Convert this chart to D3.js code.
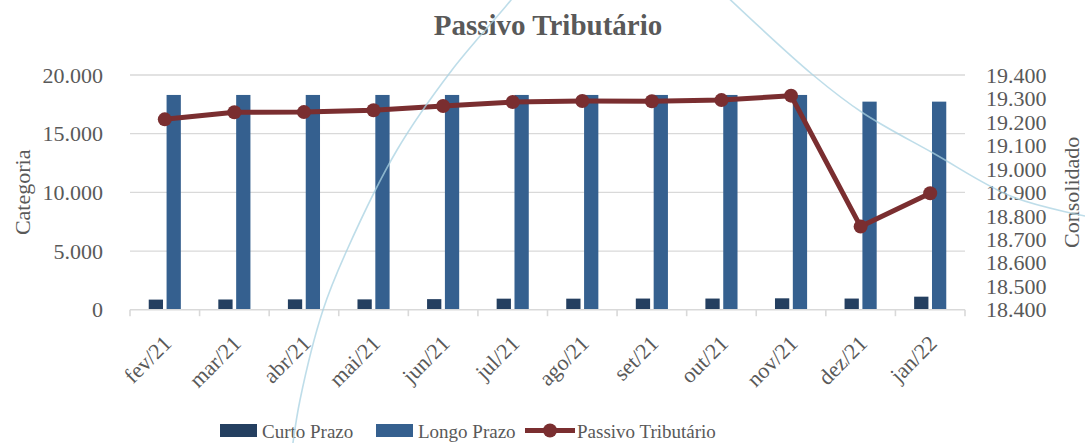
<!DOCTYPE html>
<html><head><meta charset="utf-8">
<script src="https://cdn.jsdelivr.net/npm/d3@7"></script>
<style>
html,body{margin:0;padding:0;background:#fff;}
svg text{font-family:"Liberation Serif","Times New Roman",serif;fill:#595959;}
</style></head>
<body><svg id="chart" width="1085" height="443"></svg>
<script>
const categories = ["fev/21","mar/21","abr/21","mai/21","jun/21","jul/21","ago/21","set/21","out/21","nov/21","dez/21","jan/22"];
const curtoPrazo = [860, 870, 880, 880, 900, 940, 940, 950, 950, 970, 950, 1110];
const longoPrazo = [18300, 18300, 18300, 18300, 18300, 18300, 18300, 18300, 18300, 18300, 17730, 17730];
const passivoTributario = [19211, 19241, 19242, 19250, 19268, 19285, 19289, 19288, 19293, 19312, 18754, 18896];
const leftTicks = [0, 5000, 10000, 15000, 20000];
const rightTicks = [18400, 18500, 18600, 18700, 18800, 18900, 19000, 19100, 19200, 19300, 19400];
const seriesNames = ["Curto Prazo", "Longo Prazo", "Passivo Tributário"];

const colors = {curto:"#243F60", longo:"#35608F", line:"#7A2E30", grid:"#D9D9D9"};
const svg = d3.select("#chart");
const m = {left:130, right:965, top:75, bottom:309.7};

const x = d3.scaleBand().domain(categories).range([m.left, m.right]).paddingInner(0).paddingOuter(0);
const xs = d3.scaleBand().domain(["c","l"]).range([0, x.bandwidth()]).paddingInner(0.2).paddingOuter(1.05);
const yL = d3.scaleLinear().domain([0, 20000]).range([m.bottom, m.top]);
const yR = d3.scaleLinear().domain([18400, 19400]).range([m.bottom, m.top]);
const fmt = d3.formatLocale({decimal:",", thousands:".", grouping:[3], currency:["R$",""]}).format(",.0f");

// decorative background curves (slide template)
const deco = d3.line().curve(d3.curveCatmullRom.alpha(0.5));
const curveA = [[720,-10],[813,75],[863,113],[933,153],[1013,197],[1095,218]];
const curveB = [[518,-10],[511,0],[452,70],[397,150],[347,250],[323,310],[300,400],[292,450]];

// gridlines
svg.append("g").selectAll("line").data(leftTicks.filter(d=>d>0)).join("line")
  .attr("x1", m.left).attr("x2", m.right)
  .attr("y1", d=>yL(d)).attr("y2", d=>yL(d))
  .attr("stroke", colors.grid).attr("stroke-width", 1.3);

// bars
const g = svg.append("g");
categories.forEach((c,i)=>{
  g.append("rect").attr("x", x(c)+xs("c")).attr("width", xs.bandwidth())
    .attr("y", yL(curtoPrazo[i])).attr("height", yL(0)-yL(curtoPrazo[i])).attr("fill", colors.curto);
  g.append("rect").attr("x", x(c)+xs("l")).attr("width", xs.bandwidth())
    .attr("y", yL(longoPrazo[i])).attr("height", yL(0)-yL(longoPrazo[i])).attr("fill", colors.longo);
});

// x axis line + ticks
svg.append("line").attr("x1", m.left).attr("x2", m.right).attr("y1", m.bottom).attr("y2", m.bottom)
  .attr("stroke", colors.grid).attr("stroke-width", 1.6);
const bounds = categories.map(c=>x(c)).concat([m.right]);
svg.append("g").selectAll("line").data(bounds).join("line")
  .attr("x1", d=>d).attr("x2", d=>d).attr("y1", m.bottom).attr("y2", m.bottom+6.5)
  .attr("stroke", colors.grid).attr("stroke-width", 1.6);

// x labels
svg.append("g").selectAll("text").data(categories).join("text")
  .attr("text-anchor", "end")
  .attr("transform", d=>`translate(${x(d)+x.bandwidth()/2+8},${m.bottom+35}) rotate(-45)`)
  .attr("font-size", 22).text(d=>d);

// left axis labels
svg.append("g").selectAll("text").data(leftTicks).join("text")
  .attr("x", 103).attr("y", d=>yL(d)).attr("dy", "0.35em").attr("text-anchor", "end")
  .attr("font-size", 22).text(d=>fmt(d));

// right axis labels
svg.append("g").selectAll("text").data(rightTicks).join("text")
  .attr("x", 986).attr("y", d=>yR(d)).attr("dy", "0.35em").attr("text-anchor", "start")
  .attr("font-size", 22).text(d=>fmt(d));

// axis titles
svg.append("text").attr("transform", `translate(30,${(m.top+m.bottom)/2}) rotate(-90)`)
  .attr("text-anchor", "middle").attr("font-size", 22).text("Categoria");
svg.append("text").attr("transform", `translate(1079,${(m.top+m.bottom)/2}) rotate(-90)`)
  .attr("text-anchor", "middle").attr("font-size", 22).text("Consolidado");

// title
svg.append("text").attr("x", 548).attr("y", 35).attr("text-anchor", "middle")
  .attr("font-size", 29).attr("font-weight", "bold").text("Passivo Tributário");

// line
const cx = c=>x(c)+x.bandwidth()/2;
const line = d3.line().x((d,i)=>cx(categories[i])).y(d=>yR(d));
svg.append("path").datum(passivoTributario).attr("d", line)
  .attr("fill","none").attr("stroke", colors.line).attr("stroke-width", 5).attr("stroke-linejoin","round");
svg.append("g").selectAll("circle").data(passivoTributario).join("circle")
  .attr("cx", (d,i)=>cx(categories[i])).attr("cy", d=>yR(d)).attr("r", 7).attr("fill", colors.line);

// legend
const lg = svg.append("g");
lg.append("rect").attr("x", 220).attr("y", 424).attr("width", 37).attr("height", 13).attr("fill", colors.curto);
lg.append("text").attr("x", 262).attr("y", 437.5).attr("font-size", 19).text(seriesNames[0]);
lg.append("rect").attr("x", 376).attr("y", 424).attr("width", 37).attr("height", 13).attr("fill", colors.longo);
lg.append("text").attr("x", 418).attr("y", 437.5).attr("font-size", 19).text(seriesNames[1]);
lg.append("line").attr("x1", 525).attr("x2", 575).attr("y1", 430.5).attr("y2", 430.5)
  .attr("stroke", colors.line).attr("stroke-width", 5);
lg.append("circle").attr("cx", 550).attr("cy", 430.5).attr("r", 7).attr("fill", colors.line);
lg.append("text").attr("x", 577).attr("y", 437.5).attr("font-size", 19).text(seriesNames[2]);

[curveA, curveB].forEach(p=>{
  svg.append("path").attr("d", deco(p)).attr("fill","none")
    .attr("stroke", "#A8D2E2").attr("stroke-width", 1.6).attr("opacity", 0.75);
});
</script></body></html>
